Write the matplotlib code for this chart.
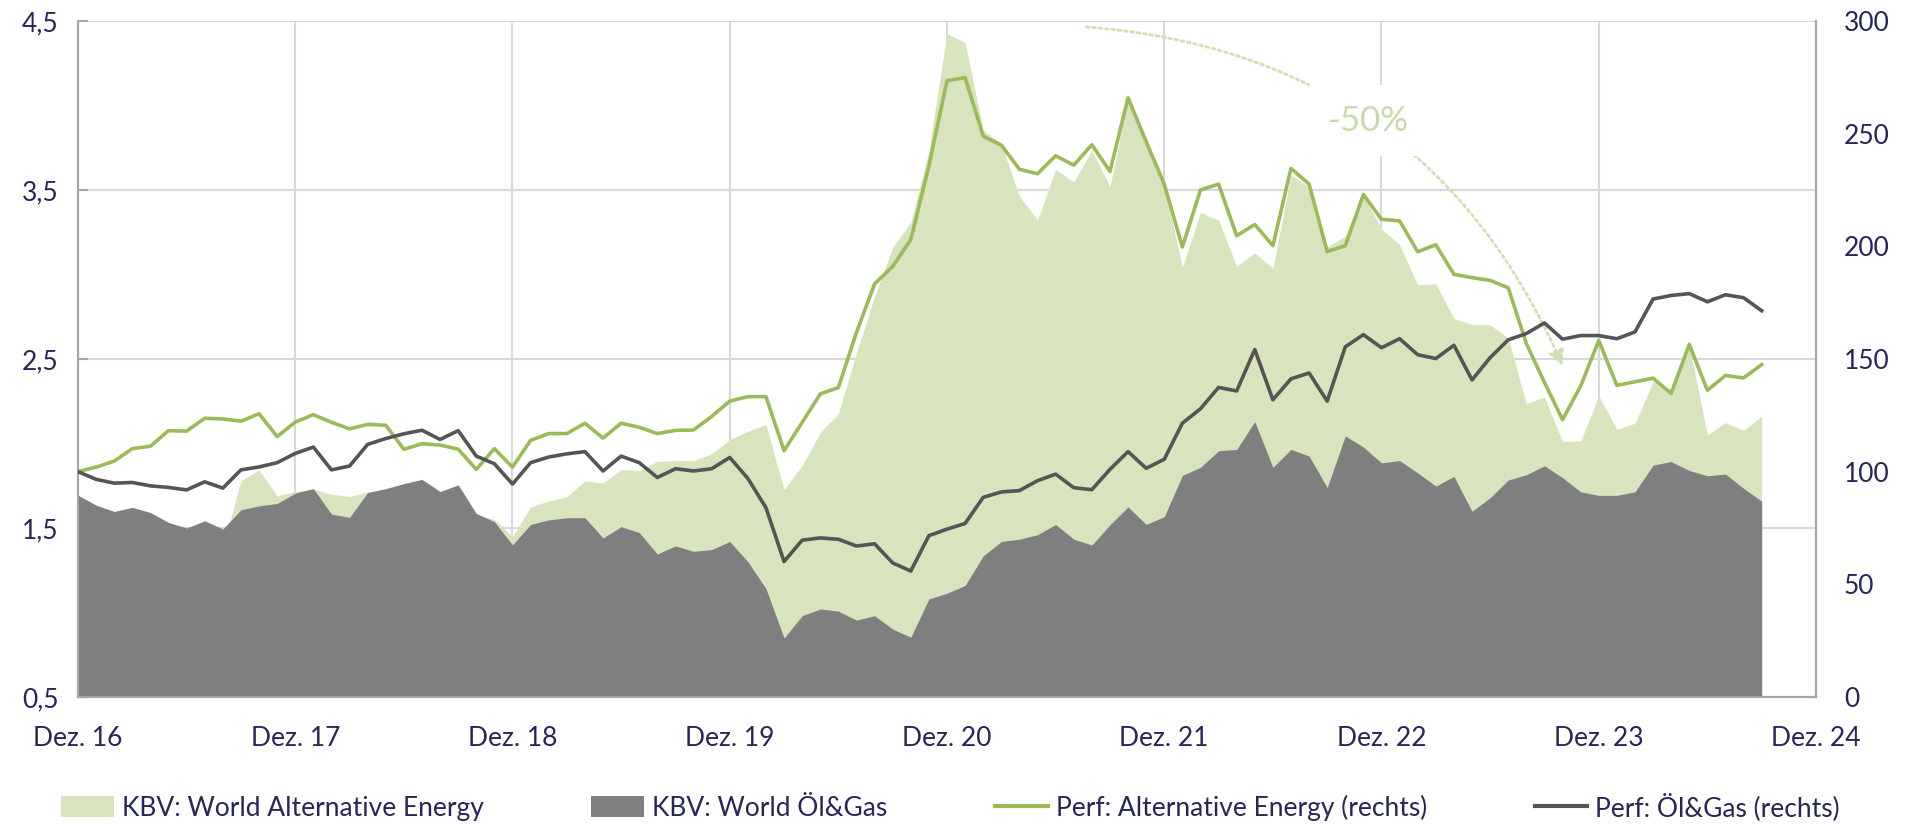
import numpy as np
import matplotlib
matplotlib.use("Agg")
import matplotlib.pyplot as plt
from matplotlib.patches import Patch
from matplotlib.lines import Line2D
from matplotlib.ticker import FuncFormatter

plt.rcParams["font.family"] = ["Lato", "DejaVu Sans"]

# monthly values, Dez. 16 .. Sep. 24
kbv_alt = [1.60, 1.56, 1.52, 1.55, 1.51, 1.46, 1.43, 1.47, 1.38, 1.78, 1.843, 1.69, 1.716,
           1.73, 1.70, 1.686, 1.714, 1.70, 1.72, 1.72, 1.68, 1.66, 1.58, 1.55, 1.45,
           1.625, 1.66, 1.686, 1.779, 1.766, 1.846, 1.840, 1.894, 1.899, 1.899, 1.939, 2.024,
           2.072, 2.112, 1.726, 1.872, 2.064, 2.178, 2.537, 2.870, 3.162, 3.309, 3.734, 4.426,
           4.372, 3.854, 3.77, 3.463, 3.322, 3.622, 3.548, 3.734, 3.521, 4.04, 3.787, 3.521,
           3.043, 3.367, 3.322, 3.048, 3.128, 3.037, 3.588, 3.521, 3.162, 3.229, 3.468, 3.27,
           3.176, 2.939, 2.945, 2.739, 2.704, 2.702, 2.624, 2.235, 2.277, 2.011, 2.015, 2.282,
           2.084, 2.120, 2.366, 2.319, 2.582, 2.050, 2.124, 2.078, 2.162]

kbv_oil = [1.694, 1.635, 1.598, 1.622, 1.592, 1.533, 1.50, 1.543, 1.494, 1.608, 1.631, 1.645, 1.706,
           1.733, 1.582, 1.563, 1.71, 1.733, 1.763, 1.788, 1.716, 1.755, 1.586, 1.537, 1.40,
           1.521, 1.548, 1.561, 1.561, 1.441, 1.508, 1.473, 1.346, 1.394, 1.362, 1.372, 1.420,
           1.301, 1.141, 0.849, 0.981, 1.021, 1.008, 0.955, 0.981, 0.902, 0.854, 1.080, 1.114,
           1.160, 1.335, 1.420, 1.434, 1.460, 1.521, 1.434, 1.399, 1.519, 1.625, 1.521, 1.567,
           1.811, 1.859, 1.957, 1.965, 2.130, 1.859, 1.965, 1.926, 1.739, 2.045, 1.979, 1.885,
           1.899, 1.826, 1.748, 1.805, 1.599, 1.679, 1.784, 1.815, 1.868, 1.798, 1.714, 1.693,
           1.693, 1.714, 1.872, 1.893, 1.840, 1.809, 1.819, 1.735, 1.658]

perf_alt = [100, 102, 104.7, 110.2, 111.3, 118.2, 118, 123.7, 123.4, 122.4, 125.7, 115.6, 122,
            125.3, 121.9, 119, 121, 120.6, 109.9, 112.4, 111.8, 110, 101, 110.2, 102,
            113.9, 116.9, 116.9, 121.5, 114.9, 121.5, 119.7, 116.9, 118.3, 118.5, 124.5, 131.3,
            133.3, 133.3, 109.3, 121.9, 134.5, 137.3, 161.8, 183.3, 191.1, 203, 235.6, 273.5,
            274.9, 248.9, 244.9, 234.2, 232.2, 240.2, 236, 245.1, 233.2, 265.9, 246.5, 227.6,
            199.7, 225, 227.6, 204.7, 209.7, 200.3, 234.6, 227.6, 197.7, 200.3, 223, 212,
            211.3, 197.6, 200.7, 187.6, 186.1, 184.9, 181.6, 156.9, 139.6, 123.1, 138, 158.2,
            138.3, 139.9, 141.5, 134.7, 156.5, 136.1, 142.7, 141.6, 147.5]

perf_oil = [100, 96.6, 94.9, 95.2, 93.7, 93, 91.9, 95.5, 92.7, 100.8, 102.1, 104, 108.1,
            110.9, 100.8, 102.5, 112.1, 114.7, 116.8, 118.4, 114.3, 118.2, 106.9, 103.5, 94.5,
            104, 106.5, 107.9, 108.9, 100.3, 106.9, 104, 97.4, 101.3, 100.3, 101.3, 106.3,
            97, 84, 60.1, 69.6, 70.6, 70, 67, 68, 59.5, 55.9, 71.6, 74.5,
            77, 88.6, 91, 91.6, 96, 98.9, 92.9, 92, 101, 108.9, 101.5, 105.5,
            121.5, 127.9, 137.4, 135.8, 154.2, 131.9, 141.2, 143.8, 131.3, 155.4, 160.8, 155,
            159, 151.9, 150.2, 156.1, 140.7, 150.6, 158.5, 161.3, 166, 158.8, 160.4, 160.4,
            159, 162, 176.6, 178.2, 179, 175.4, 178.5, 177.2, 171.4]

year_labels = ["Dez. 16", "Dez. 17", "Dez. 18", "Dez. 19", "Dez. 20",
               "Dez. 21", "Dez. 22", "Dez. 23", "Dez. 24"]

NAVY = "#262658"
LIGHT = "#d7e4bd"
GREY = "#7f7f7f"
GREEN = "#9bbb59"
DARK = "#555555"
GRID = "#d9d9d9"
SPINE = "#a6a6a6"
FS = 19

months = np.arange(len(kbv_alt))

fig = plt.figure(figsize=(19.08, 8.24), dpi=100)
ax = fig.add_axes([78 / 1908, 1 - 697 / 824, (1816 - 78) / 1908, (697 - 21) / 824])

ax.fill_between(months, 0.5, kbv_alt, color=LIGHT, lw=0, zorder=2)
ax.fill_between(months, 0.5, kbv_oil, color=GREY, lw=0, zorder=3)

ax.set_xlim(0, 96)
ax.set_ylim(0.5, 4.5)
ax.set_xticks(np.arange(0, 97, 12))
ax.set_xticklabels(year_labels)
ax.set_yticks([0.5, 1.5, 2.5, 3.5, 4.5])
ax.yaxis.set_major_formatter(FuncFormatter(lambda v, p: f"{v:.1f}".replace(".", ",")))
ax.grid(True, color=GRID, lw=1.5, zorder=0)
ax.set_axisbelow(True)
ax.tick_params(axis="x", direction="in", length=7, color=SPINE, width=1.5,
               labelsize=FS, labelcolor=NAVY, pad=21)
ax.tick_params(axis="y", direction="in", length=7, color=SPINE, width=1.5,
               labelsize=FS, labelcolor=NAVY, pad=14)
ax.spines["top"].set_visible(False)
for s in ["left", "bottom", "right"]:
    ax.spines[s].set_color(SPINE)
    ax.spines[s].set_linewidth(1.5)

ax2 = ax.twinx()
ax2.plot(months, perf_alt, color=GREEN, lw=2.6, zorder=5)
ax2.plot(months, perf_oil, color=DARK, lw=2.6, zorder=5)
ax2.set_ylim(0, 300)
ax2.set_yticks(np.arange(0, 301, 50))
ax2.tick_params(axis="y", direction="in", length=0, labelsize=FS, labelcolor=NAVY, pad=20)
ax2.spines["top"].set_visible(False)
for s in ["left", "bottom", "right"]:
    ax2.spines[s].set_color(SPINE)
    ax2.spines[s].set_linewidth(1.5)

# -50% annotation
ARC = "#cfdfae"
ax.annotate("", xy=(82.0, 2.46), xytext=(55.7, 4.465),
            arrowprops=dict(arrowstyle="-|>,head_length=0.9,head_width=0.45",
                            color=ARC, lw=2, linestyle=(0, (1, 1.3)),
                            connectionstyle="arc3,rad=-0.3",
                            shrinkA=0, shrinkB=0),
            zorder=6)
ax.text(71.3, 3.91, "-50%", fontsize=25, color="#c8dba6",
        ha="center", va="center", zorder=7,
        bbox=dict(facecolor="white", edgecolor="none", pad=14))

handles = [Patch(facecolor=LIGHT, edgecolor="none"),
           Patch(facecolor=GREY, edgecolor="none"),
           Line2D([], [], color=GREEN, lw=3),
           Line2D([], [], color=DARK, lw=3)]
labels = ["KBV: World Alternative Energy", "KBV: World Öl&Gas",
          "Perf: Alternative Energy (rechts)", "Perf: Öl&Gas (rechts)"]
fig.legend(handles, labels, loc="center", ncol=4, mode="expand",
           bbox_to_anchor=(61 / 1908, 0.006, (1840 - 61) / 1908, 0.03),
           frameon=False, fontsize=FS, labelcolor=NAVY, handlelength=2.0,
           handleheight=0.8, handletextpad=0.3, borderpad=0, borderaxespad=0)

fig.savefig("out.png", dpi=100)
